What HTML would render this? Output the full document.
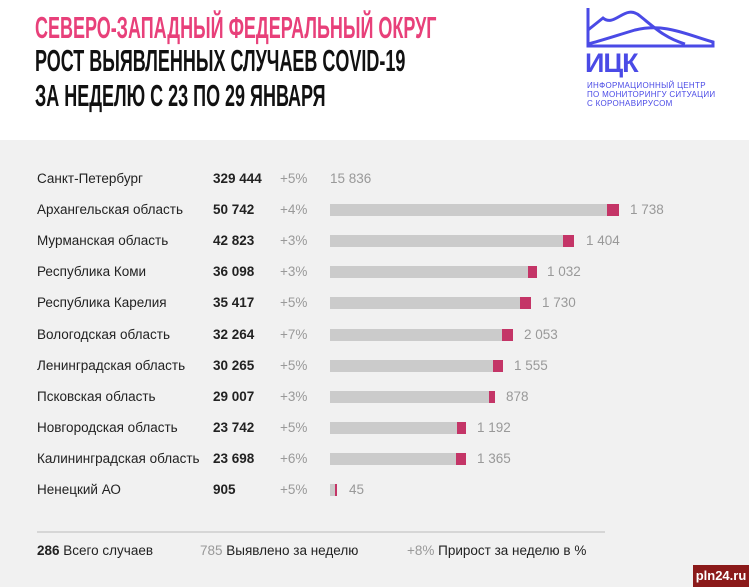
<!DOCTYPE html>
<html><head><meta charset="utf-8"><style>
body{margin:0;width:749px;height:587px;overflow:hidden;background:#f1f1f1;font-family:"Liberation Sans",sans-serif;position:relative}
.top{position:absolute;left:0;top:0;width:749px;height:140px;background:#fff}
.t{position:absolute;left:35px;font-family:"Liberation Sans Narrow","Liberation Sans",sans-serif;font-weight:bold;font-size:31px;line-height:31px;transform:scaleX(0.58);transform-origin:0 0;white-space:nowrap;letter-spacing:0px}
.row{position:absolute;left:0;width:749px;height:20px;font-size:13.5px;color:#222}
.row span{position:absolute;top:0;white-space:nowrap}
.n{left:37px}.v{left:213px;font-weight:bold}.p{left:280px;color:#999}
.b{position:absolute;top:-4px;height:12px;background:#cbcbcb}
.k{position:absolute;top:-4px;height:12px;background:#c43567}
.c{color:#999}
</style></head><body>
<div class="top"></div>
<div class="t" style="top:12px;color:#e8407a">СЕВЕРО-ЗАПАДНЫЙ ФЕДЕРАЛЬНЫЙ ОКРУГ</div>
<div class="t" style="top:45px;color:#111">РОСТ ВЫЯВЛЕННЫХ СЛУЧАЕВ COVID-19</div>
<div class="t" style="top:80px;color:#111">ЗА НЕДЕЛЮ С 23 ПО 29 ЯНВАРЯ</div>
<svg style="position:absolute;left:585px;top:8px" width="130" height="40"><g fill="none" stroke="#4a4ae6" stroke-width="3"><path d="M3,0 V38 H128 V34 C100,26 80,15 50,22 C30,28 15,33 3,36"/><path d="M3,22 L18,10 C30,20 40,-5 55,8 C70,20 80,30 100,36"/></g></svg>
<div style="position:absolute;left:585px;top:48px;font-weight:bold;font-size:27px;color:#4a4ae6;letter-spacing:-1px">ИЦК</div>
<div style="position:absolute;left:587px;top:81px;font-size:8px;line-height:9px;color:#4a4ae6;letter-spacing:0.3px">ИНФОРМАЦИОННЫЙ ЦЕНТР<br>ПО МОНИТОРИНГУ СИТУАЦИИ<br>С КОРОНАВИРУСОМ</div>

<div class="row" style="top:171px"><span class="n">Санкт-Петербург</span><span class="v">329 444</span><span class="p">+5%</span><span class="c" style="left:330px">15 836</span></div>
<div class="row" style="top:202px"><span class="n">Архангельская область</span><span class="v">50 742</span><span class="p">+4%</span><div class="b" style="left:330px;width:277px;top:2px"></div><div class="k" style="left:607px;width:12px;top:2px"></div><span class="c" style="left:630px">1 738</span></div>
<div class="row" style="top:233px"><span class="n">Мурманская область</span><span class="v">42 823</span><span class="p">+3%</span><div class="b" style="left:330px;width:233px;top:2px"></div><div class="k" style="left:563px;width:11px;top:2px"></div><span class="c" style="left:586px">1 404</span></div>
<div class="row" style="top:264px"><span class="n">Республика Коми</span><span class="v">36 098</span><span class="p">+3%</span><div class="b" style="left:330px;width:198px;top:2px"></div><div class="k" style="left:528px;width:9px;top:2px"></div><span class="c" style="left:547px">1 032</span></div>
<div class="row" style="top:295px"><span class="n">Республика Карелия</span><span class="v">35 417</span><span class="p">+5%</span><div class="b" style="left:330px;width:190px;top:2px"></div><div class="k" style="left:520px;width:11px;top:2px"></div><span class="c" style="left:542px">1 730</span></div>
<div class="row" style="top:327px"><span class="n">Вологодская область</span><span class="v">32 264</span><span class="p">+7%</span><div class="b" style="left:330px;width:172px;top:2px"></div><div class="k" style="left:502px;width:11px;top:2px"></div><span class="c" style="left:524px">2 053</span></div>
<div class="row" style="top:358px"><span class="n">Ленинградская область</span><span class="v">30 265</span><span class="p">+5%</span><div class="b" style="left:330px;width:163px;top:2px"></div><div class="k" style="left:493px;width:10px;top:2px"></div><span class="c" style="left:514px">1 555</span></div>
<div class="row" style="top:389px"><span class="n">Псковская область</span><span class="v">29 007</span><span class="p">+3%</span><div class="b" style="left:330px;width:159px;top:2px"></div><div class="k" style="left:489px;width:6px;top:2px"></div><span class="c" style="left:506px">878</span></div>
<div class="row" style="top:420px"><span class="n">Новгородская область</span><span class="v">23 742</span><span class="p">+5%</span><div class="b" style="left:330px;width:127px;top:2px"></div><div class="k" style="left:457px;width:9px;top:2px"></div><span class="c" style="left:477px">1 192</span></div>
<div class="row" style="top:451px"><span class="n">Калининградская область</span><span class="v">23 698</span><span class="p">+6%</span><div class="b" style="left:330px;width:126px;top:2px"></div><div class="k" style="left:456px;width:10px;top:2px"></div><span class="c" style="left:477px">1 365</span></div>
<div class="row" style="top:482px"><span class="n">Ненецкий АО</span><span class="v">905</span><span class="p">+5%</span><div class="b" style="left:330px;width:5px;top:2px"></div><div class="k" style="left:335px;width:2px;top:2px"></div><span class="c" style="left:349px">45</span></div>

<div style="position:absolute;left:37px;top:531px;width:568px;height:2px;background:#d6d6d6"></div>
<div class="row" style="top:543px"><span style="left:37px"><b>286</b> Всего случаев</span><span style="left:200px"><span class="c" style="position:static">785</span> Выявлено за неделю</span><span style="left:407px"><span class="c" style="position:static">+8%</span> Прирост за неделю в %</span></div>
<div style="position:absolute;left:693px;top:565px;width:56px;height:22px;background:#8b1a1a;color:#fff;font-weight:bold;font-size:13px;line-height:22px;text-align:center;font-family:'Liberation Sans Narrow','Liberation Sans',sans-serif">pln24.ru</div>
</body></html>
